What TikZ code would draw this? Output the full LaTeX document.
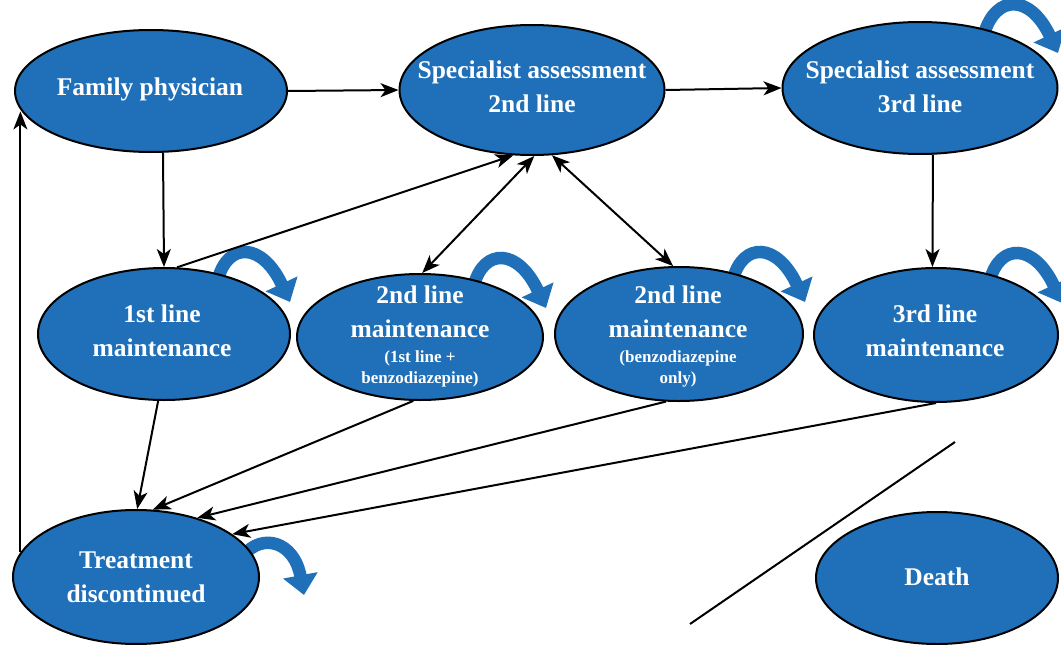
\documentclass[tikz,border=0pt]{standalone}
\usepackage{fontspec}
\setmainfont{Liberation Serif}
\usetikzlibrary{arrows.meta,shapes.geometric,calc}
\pgfdeclarelayer{background}
\pgfsetlayers{background,main}
\definecolor{nodeblue}{RGB}{31,112,184}
\begin{document}
\begin{tikzpicture}[x=1pt,y=-1pt,
  state/.style={ellipse, draw=black, line width=2pt, fill=nodeblue, inner sep=0pt},
  lbl/.style={text=white, font=\fontsize{25.5}{34}\selectfont\bfseries, align=center, inner sep=0pt},
  conn/.style={line width=2pt, -{Stealth[length=18pt,width=14pt,inset=5pt]}},
  biconn/.style={line width=2pt, {Stealth[length=18pt,width=14pt,inset=5pt]}-{Stealth[length=18pt,width=14pt,inset=5pt]}},
  selfloop/.style={draw=nodeblue, line width=12.5pt, -{Triangle[length=20pt,width=34pt]}}]
\useasboundingbox (0,0) rectangle (1061,645);

% states
\node[state, minimum width=272pt, minimum height=122pt] (FP) at (151,91) {};
\node[state, minimum width=265pt, minimum height=130pt] (S2) at (532,90) {};
\node[state, minimum width=275pt, minimum height=132pt] (S3) at (920,88) {};
\node[state, minimum width=252pt, minimum height=132pt] (M1) at (164,334) {};
\node[state, minimum width=246pt, minimum height=126pt] (M2a) at (420,337) {};
\node[state, minimum width=248pt, minimum height=134pt] (M2b) at (679,334) {};
\node[state, minimum width=244pt, minimum height=134pt] (M3) at (936,335) {};
\node[state, minimum width=246pt, minimum height=134pt] (TD) at (136,577) {};
\node[state, minimum width=242pt, minimum height=132pt] (DE) at (937,578) {};

% labels
\node[lbl] (FPt) at (150,89) {Family physician};
\node[lbl] (S2t) at (532,87) {Specialist assessment\\2nd line};
\node[lbl] (S3t) at (920,87) {Specialist assessment\\3rd line};
\node[lbl] (M1t) at (162,331) {1st line\\maintenance};
\node[lbl] (M2at) at (420,336) {2nd line\\maintenance\\[-9pt]{\fontsize{17}{22}\selectfont (1st line +}\\[-13pt]{\fontsize{17}{22}\selectfont benzodiazepine)}};
\node[lbl] (M2bt) at (678,336) {2nd line\\maintenance\\[-9pt]{\fontsize{17}{22}\selectfont (benzodiazepine}\\[-13pt]{\fontsize{17}{22}\selectfont only)}};
\node[lbl] (M3t) at (935,331) {3rd line\\maintenance};
\node[lbl] (TDt) at (136,577) {Treatment\\discontinued};
\node[lbl] (DEt) at (937,577) {Death};

% self loops
\begin{pgfonlayer}{background}
\draw[selfloop, shift={(M1)}] (54,-55) .. controls (64,-92) and (98,-92) .. (126,-32);
\draw[selfloop, shift={(M2a)}] (54,-52) .. controls (64,-89) and (98,-89) .. (126,-29);
\draw[selfloop, shift={(M2b)}] (54,-55) .. controls (64,-92) and (98,-92) .. (126,-32);
\draw[selfloop, shift={(M3)}] (54,-55) .. controls (64,-92) and (98,-92) .. (126,-32);
\draw[selfloop, shift={(S3)}] (64,-54) .. controls (76,-94) and (110,-94) .. (138,-35);
\draw[selfloop, shift={(TD)}] (108,-22) .. controls (126,-44) and (158,-36) .. (168,18);
\end{pgfonlayer}

% connectors
\draw[conn] (FP.east) -- (S2.west);
\draw[conn] (S2.east) -- (S3.west);
\draw[conn] (FP.-79) -- (M1.north);
\draw[conn] (S3.-79) -- (M3.93);
\draw[conn] (TD.168) -- (TD.168 |- FP.189);
\draw[conn] (M1.79) -- (S2.-106);
\draw[biconn] (S2.-88) -- (M2a.88);
\draw[biconn] (S2.-73) -- (M2b.95);
\draw[conn] (M1.-95) -- (TD.89);
\draw[conn] (M2a.-96) -- (TD.76);
\draw[conn] (M2b.-101) -- (TD.44);
\draw[conn] (M3.south) -- (TD.24);

% free line
\coordinate (L1) at (955,442);
\coordinate (L2) at (690,624);
\draw[line width=2pt] (L1) -- (L2);
\end{tikzpicture}
\end{document}
